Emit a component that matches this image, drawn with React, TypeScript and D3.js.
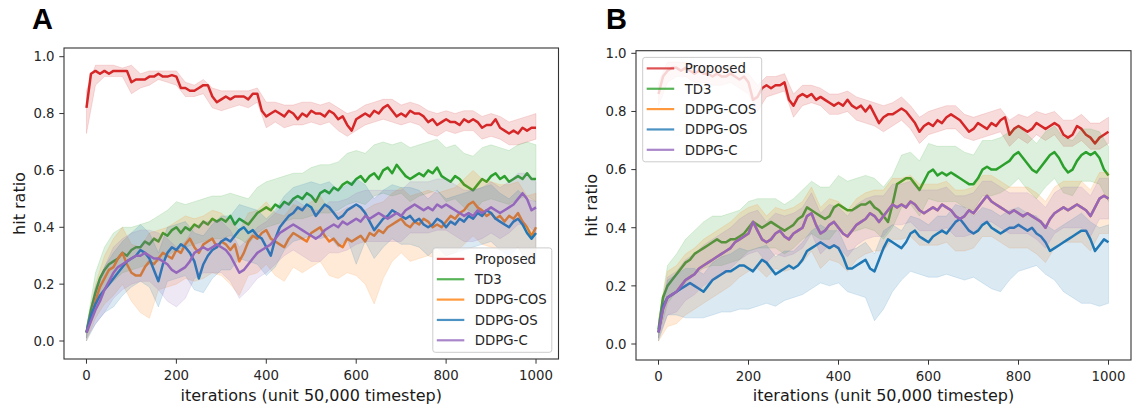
import React from 'react';
import * as d3 from 'd3';

// legend order == draw order
const methods = ['Proposed', 'TD3', 'DDPG-COS', 'DDPG-OS', 'DDPG-C'];
const colors = ['#d62728', '#2ca02c', '#ff7f0e', '#1f77b4', '#9467bd'];
const xTicks = [0, 200, 400, 600, 800, 1000];
const yTicks = [0, 0.2, 0.4, 0.6, 0.8, 1.0];
const MEAN_STEP = 10; // iterations between mean samples
const BAND_STEP = 20; // iterations between band samples

// ---------- panel A : mean curves (every 10 iterations) ----------
const propA = [
  0.82, 0.94, 0.95, 0.94, 0.95, 0.94, 0.95, 0.95, 0.95, 0.95,
  0.91, 0.92, 0.92, 0.92, 0.93, 0.93, 0.94, 0.93, 0.93, 0.935,
  0.93, 0.89, 0.89, 0.88, 0.88, 0.89, 0.90, 0.90, 0.86, 0.84,
  0.85, 0.86, 0.85, 0.86, 0.86, 0.86, 0.85, 0.87, 0.87, 0.81,
  0.79, 0.80, 0.81, 0.80, 0.79, 0.81, 0.80, 0.78, 0.80, 0.79,
  0.81, 0.80, 0.80, 0.79, 0.81, 0.80, 0.78, 0.79, 0.76, 0.74,
  0.78, 0.79, 0.80, 0.79, 0.81, 0.80, 0.82, 0.83, 0.81, 0.79,
  0.80, 0.79, 0.81, 0.80, 0.80, 0.79, 0.77, 0.78, 0.76, 0.77,
  0.78, 0.77, 0.77, 0.76, 0.78, 0.77, 0.78, 0.77, 0.75, 0.76,
  0.76, 0.78, 0.75, 0.74, 0.73, 0.74, 0.73, 0.75, 0.74, 0.75,
  0.75,
];
const td3A = [
  0.03, 0.11, 0.17, 0.22, 0.25, 0.27, 0.28, 0.29, 0.31, 0.30,
  0.32, 0.33, 0.33, 0.35, 0.34, 0.36, 0.35, 0.38, 0.37, 0.39,
  0.40, 0.38, 0.40, 0.39, 0.41, 0.40, 0.42, 0.41, 0.43, 0.42,
  0.43, 0.42, 0.44, 0.41, 0.43, 0.42, 0.41, 0.43, 0.45, 0.46,
  0.47, 0.46, 0.48, 0.47, 0.49, 0.48, 0.50, 0.51, 0.50, 0.52,
  0.51, 0.49, 0.52, 0.53, 0.52, 0.54, 0.53, 0.55, 0.56, 0.55,
  0.57, 0.58, 0.56, 0.58, 0.59, 0.57, 0.60, 0.61, 0.59, 0.62,
  0.60, 0.58, 0.57, 0.58, 0.59, 0.58, 0.60, 0.59, 0.61, 0.58,
  0.57, 0.56, 0.58, 0.57, 0.55, 0.54, 0.53, 0.55, 0.57, 0.56,
  0.58, 0.59, 0.57, 0.58, 0.56, 0.57, 0.58, 0.57, 0.59, 0.57,
  0.57,
];
const cosA = [
  0.03, 0.08, 0.14, 0.19, 0.22, 0.25, 0.26, 0.29, 0.31, 0.27,
  0.24, 0.23, 0.23, 0.26, 0.28, 0.27, 0.29, 0.31, 0.30, 0.29,
  0.32, 0.31, 0.34, 0.36, 0.33, 0.31, 0.34, 0.35, 0.36, 0.33,
  0.35, 0.34, 0.32, 0.34, 0.28, 0.31, 0.35, 0.37, 0.36, 0.38,
  0.39, 0.36, 0.35, 0.34, 0.33, 0.36, 0.38, 0.37, 0.36, 0.35,
  0.38, 0.39, 0.40, 0.37, 0.35, 0.36, 0.34, 0.33, 0.36, 0.35,
  0.36, 0.37, 0.35, 0.38, 0.37, 0.39, 0.38, 0.40, 0.41, 0.42,
  0.43, 0.41, 0.40, 0.42, 0.41, 0.43, 0.42, 0.40, 0.41, 0.40,
  0.42, 0.44, 0.43, 0.45, 0.46, 0.48, 0.49, 0.47, 0.46, 0.44,
  0.45, 0.43, 0.44, 0.42, 0.44, 0.43, 0.45, 0.42, 0.40, 0.37,
  0.40,
];
const osA = [
  0.03, 0.09, 0.13, 0.16, 0.18, 0.20, 0.22, 0.24, 0.26, 0.28,
  0.29, 0.30, 0.32, 0.31, 0.29, 0.25, 0.21, 0.27, 0.31, 0.33,
  0.32, 0.34, 0.33, 0.31, 0.28, 0.22, 0.27, 0.30, 0.32, 0.33,
  0.35, 0.36, 0.35, 0.37, 0.39, 0.40, 0.38, 0.39, 0.37, 0.36,
  0.33, 0.30, 0.36, 0.40, 0.42, 0.44, 0.45, 0.47, 0.46, 0.48,
  0.47, 0.44, 0.46, 0.48, 0.47, 0.45, 0.43, 0.44, 0.46, 0.47,
  0.48, 0.47, 0.45, 0.42, 0.39, 0.41, 0.43, 0.44, 0.46, 0.45,
  0.44, 0.43, 0.44, 0.42, 0.43, 0.41, 0.40, 0.41, 0.43, 0.42,
  0.40, 0.42, 0.41, 0.43, 0.42, 0.44, 0.43, 0.45, 0.44, 0.46,
  0.45, 0.43, 0.42, 0.41, 0.40, 0.42, 0.43, 0.41, 0.38, 0.36,
  0.38,
];
const cA = [
  0.03, 0.07, 0.11, 0.14, 0.18, 0.21, 0.24, 0.26, 0.27, 0.28,
  0.29, 0.30, 0.30, 0.31, 0.30, 0.29, 0.29, 0.28, 0.27, 0.25,
  0.24, 0.25, 0.26, 0.28, 0.31, 0.32, 0.33, 0.32, 0.33, 0.34,
  0.33, 0.32, 0.30, 0.27, 0.24, 0.25, 0.27, 0.29, 0.31, 0.32,
  0.33, 0.34, 0.36, 0.38, 0.39, 0.40, 0.41, 0.40, 0.39, 0.38,
  0.37, 0.36, 0.37, 0.39, 0.40, 0.41, 0.40, 0.42, 0.41, 0.42,
  0.43, 0.42, 0.44, 0.43, 0.44, 0.45, 0.44, 0.43, 0.44, 0.45,
  0.44, 0.46, 0.47, 0.48, 0.47, 0.46, 0.47, 0.46, 0.48, 0.47,
  0.48, 0.47, 0.46, 0.45, 0.44, 0.45, 0.44, 0.46, 0.45, 0.46,
  0.47, 0.46, 0.45, 0.46, 0.47, 0.48, 0.50, 0.52, 0.50, 0.46,
  0.47,
];

// ---------- panel A : spread bands (every 20 iterations) ----------
const propAHi = [
  0.88, 0.97, 0.97, 0.97, 0.96, 0.97, 0.94, 0.95, 0.95, 0.95,
  0.95, 0.91, 0.90, 0.92, 0.89, 0.88, 0.88, 0.88, 0.88, 0.89,
  0.84, 0.84, 0.83, 0.83, 0.84, 0.84, 0.83, 0.84, 0.82, 0.80,
  0.81, 0.83, 0.84, 0.85, 0.85, 0.83, 0.84, 0.83, 0.81, 0.80,
  0.81, 0.80, 0.81, 0.81, 0.79, 0.80, 0.79, 0.77, 0.78, 0.79,
  0.80,
];
const propALo = [
  0.73, 0.90, 0.93, 0.93, 0.93, 0.87, 0.89, 0.90, 0.92, 0.91,
  0.90, 0.86, 0.86, 0.87, 0.82, 0.81, 0.82, 0.83, 0.82, 0.84,
  0.75, 0.77, 0.75, 0.76, 0.76, 0.77, 0.76, 0.77, 0.74, 0.72,
  0.74, 0.76, 0.77, 0.78, 0.77, 0.76, 0.77, 0.76, 0.73, 0.72,
  0.74, 0.73, 0.74, 0.74, 0.71, 0.72, 0.71, 0.69, 0.69, 0.70,
  0.71,
];
const td3AHi = [
  0.05, 0.24, 0.33, 0.38, 0.40, 0.40, 0.41, 0.42, 0.44, 0.46,
  0.49, 0.48, 0.49, 0.50, 0.51, 0.51, 0.52, 0.51, 0.50, 0.54,
  0.56, 0.57, 0.58, 0.59, 0.59, 0.61, 0.62, 0.62, 0.63, 0.66,
  0.67, 0.66, 0.69, 0.70, 0.69, 0.70, 0.68, 0.69, 0.70, 0.71,
  0.68, 0.69, 0.66, 0.65, 0.68, 0.69, 0.68, 0.67, 0.69, 0.70,
  0.69,
];
const td3ALo = [
  0.01, 0.11, 0.18, 0.21, 0.24, 0.25, 0.26, 0.27, 0.28, 0.30,
  0.32, 0.33, 0.34, 0.35, 0.36, 0.36, 0.37, 0.36, 0.34, 0.38,
  0.40, 0.41, 0.42, 0.43, 0.43, 0.44, 0.45, 0.45, 0.46, 0.48,
  0.49, 0.48, 0.51, 0.52, 0.51, 0.52, 0.49, 0.51, 0.52, 0.53,
  0.49, 0.50, 0.47, 0.45, 0.49, 0.50, 0.49, 0.48, 0.50, 0.51,
  0.49,
];
const cosAHi = [
  0.05, 0.20, 0.30, 0.36, 0.40, 0.34, 0.33, 0.38, 0.39, 0.40,
  0.42, 0.44, 0.43, 0.44, 0.46, 0.45, 0.42, 0.39, 0.45, 0.46,
  0.49, 0.45, 0.44, 0.48, 0.47, 0.49, 0.51, 0.46, 0.45, 0.47,
  0.47, 0.46, 0.48, 0.49, 0.52, 0.54, 0.51, 0.52, 0.53, 0.52,
  0.53, 0.54, 0.57, 0.60, 0.57, 0.56, 0.55, 0.55, 0.56, 0.51,
  0.52,
];
const cosALo = [
  0.00, 0.08, 0.13, 0.16, 0.20, 0.14, 0.10, 0.08, 0.18, 0.19,
  0.20, 0.22, 0.21, 0.22, 0.24, 0.23, 0.20, 0.16, 0.23, 0.24,
  0.27, 0.23, 0.21, 0.26, 0.24, 0.26, 0.28, 0.23, 0.22, 0.24,
  0.23, 0.20, 0.13, 0.22, 0.28, 0.31, 0.28, 0.29, 0.30, 0.29,
  0.30, 0.31, 0.34, 0.37, 0.34, 0.33, 0.32, 0.32, 0.33, 0.28,
  0.28,
];
const osAHi = [
  0.05, 0.19, 0.26, 0.31, 0.35, 0.38, 0.41, 0.38, 0.31, 0.40,
  0.41, 0.42, 0.38, 0.37, 0.41, 0.44, 0.44, 0.48, 0.47, 0.46,
  0.43, 0.46, 0.51, 0.54, 0.55, 0.56, 0.55, 0.56, 0.53, 0.55,
  0.57, 0.55, 0.50, 0.53, 0.55, 0.54, 0.54, 0.53, 0.50, 0.53,
  0.50, 0.51, 0.52, 0.53, 0.54, 0.55, 0.52, 0.50, 0.53, 0.50,
  0.49,
];
const osALo = [
  0.00, 0.06, 0.10, 0.12, 0.16, 0.19, 0.21, 0.19, 0.12, 0.21,
  0.22, 0.23, 0.18, 0.17, 0.22, 0.25, 0.25, 0.29, 0.28, 0.27,
  0.23, 0.26, 0.32, 0.35, 0.36, 0.37, 0.36, 0.37, 0.33, 0.36,
  0.27, 0.35, 0.29, 0.33, 0.36, 0.34, 0.34, 0.33, 0.30, 0.33,
  0.30, 0.31, 0.32, 0.33, 0.34, 0.35, 0.32, 0.30, 0.33, 0.27,
  0.27,
];
const cAHi = [
  0.05, 0.17, 0.26, 0.33, 0.36, 0.38, 0.39, 0.39, 0.38, 0.36,
  0.33, 0.35, 0.40, 0.42, 0.42, 0.42, 0.39, 0.33, 0.36, 0.40,
  0.42, 0.45, 0.48, 0.50, 0.48, 0.46, 0.46, 0.49, 0.49, 0.50,
  0.52, 0.53, 0.53, 0.53, 0.53, 0.53, 0.56, 0.56, 0.56, 0.57,
  0.57, 0.55, 0.53, 0.53, 0.54, 0.56, 0.54, 0.56, 0.59, 0.59,
  0.56,
];
const cALo = [
  0.01, 0.06, 0.10, 0.15, 0.18, 0.20, 0.21, 0.21, 0.18, 0.14,
  0.12, 0.15, 0.22, 0.24, 0.24, 0.24, 0.21, 0.15, 0.18, 0.22,
  0.24, 0.27, 0.30, 0.32, 0.30, 0.28, 0.28, 0.31, 0.31, 0.32,
  0.34, 0.35, 0.35, 0.35, 0.35, 0.35, 0.38, 0.38, 0.38, 0.39,
  0.39, 0.37, 0.35, 0.35, 0.36, 0.38, 0.36, 0.38, 0.41, 0.41,
  0.38,
];

// ---------- panel B : mean curves ----------
const propB = [
  0.86, 0.92, 0.94, 0.95, 0.95, 0.94, 0.95, 0.94, 0.93, 0.94,
  0.93, 0.93, 0.92, 0.93, 0.92, 0.92, 0.93, 0.92, 0.91, 0.92,
  0.90, 0.84, 0.85, 0.88, 0.89, 0.88, 0.89, 0.89, 0.90, 0.84,
  0.82, 0.85, 0.86, 0.85, 0.86, 0.84, 0.85, 0.84, 0.83, 0.82,
  0.83, 0.82, 0.84, 0.82, 0.81, 0.82, 0.80, 0.82, 0.79, 0.76,
  0.78, 0.79, 0.79, 0.80, 0.81, 0.80, 0.78, 0.76, 0.73, 0.75,
  0.76, 0.75, 0.77, 0.76, 0.78, 0.79, 0.78, 0.77, 0.75, 0.73,
  0.74, 0.76, 0.75, 0.74, 0.76, 0.75, 0.77, 0.78, 0.72, 0.74,
  0.75, 0.74, 0.73, 0.74, 0.76, 0.75, 0.74, 0.75, 0.76, 0.75,
  0.72, 0.71, 0.72, 0.75, 0.74, 0.72, 0.71, 0.69, 0.71, 0.72,
  0.73,
];
const td3B = [
  0.05, 0.16, 0.20, 0.22, 0.24, 0.26, 0.28, 0.29, 0.31, 0.32,
  0.33, 0.34, 0.35, 0.36, 0.35, 0.35, 0.36, 0.36, 0.37, 0.38,
  0.40, 0.42, 0.41, 0.40, 0.41, 0.42, 0.41, 0.40, 0.39, 0.40,
  0.41, 0.43, 0.44, 0.47, 0.46, 0.45, 0.44, 0.43, 0.44, 0.47,
  0.48, 0.47, 0.46, 0.46, 0.47, 0.48, 0.48, 0.49, 0.47, 0.46,
  0.44, 0.42, 0.48, 0.55, 0.56, 0.57, 0.57, 0.55, 0.53, 0.56,
  0.59, 0.60, 0.58, 0.59, 0.58, 0.59, 0.58, 0.57, 0.56, 0.55,
  0.55, 0.57, 0.60, 0.61, 0.60, 0.60, 0.61, 0.62, 0.63, 0.65,
  0.66, 0.64, 0.62, 0.60, 0.59, 0.61, 0.63, 0.65, 0.66, 0.64,
  0.61, 0.59, 0.60, 0.63, 0.65, 0.66, 0.65, 0.66, 0.64, 0.60,
  0.58,
];
// DDPG-COS runs almost exactly under DDPG-C in panel B
const cosB = [
  0.04, 0.12, 0.16, 0.17, 0.18, 0.20, 0.22, 0.23, 0.24, 0.26,
  0.27, 0.28, 0.29, 0.30, 0.31, 0.32, 0.33, 0.35, 0.36, 0.37,
  0.38, 0.42, 0.39, 0.36, 0.35, 0.36, 0.38, 0.39, 0.37, 0.36,
  0.38, 0.39, 0.40, 0.44, 0.45, 0.41, 0.38, 0.39, 0.41, 0.42,
  0.40, 0.38, 0.37, 0.39, 0.41, 0.42, 0.43, 0.45, 0.44, 0.42,
  0.44, 0.46, 0.48, 0.47, 0.48, 0.47, 0.49, 0.48, 0.46, 0.45,
  0.46, 0.47, 0.46, 0.48, 0.47, 0.46, 0.44, 0.43, 0.44, 0.46,
  0.45, 0.47, 0.49, 0.51, 0.49, 0.48, 0.47, 0.46, 0.45, 0.46,
  0.45, 0.44, 0.45, 0.44, 0.43, 0.42, 0.40, 0.43, 0.45, 0.46,
  0.47, 0.46, 0.47, 0.48, 0.47, 0.46, 0.44, 0.47, 0.50, 0.51,
  0.50,
];
const osB = [
  0.04, 0.13, 0.16, 0.17, 0.18, 0.19, 0.20, 0.21, 0.20, 0.19,
  0.18, 0.20, 0.22, 0.23, 0.24, 0.25, 0.25, 0.26, 0.27, 0.27,
  0.26, 0.25, 0.27, 0.29, 0.28, 0.26, 0.24, 0.25, 0.26, 0.27,
  0.26, 0.27, 0.29, 0.32, 0.33, 0.34, 0.35, 0.34, 0.33, 0.34,
  0.33, 0.30, 0.26, 0.26, 0.27, 0.28, 0.29, 0.26, 0.25, 0.29,
  0.33, 0.36, 0.35, 0.34, 0.33, 0.35, 0.38, 0.39, 0.37, 0.36,
  0.35, 0.37, 0.38, 0.39, 0.38, 0.40, 0.42, 0.43, 0.41, 0.39,
  0.38, 0.39, 0.41, 0.42, 0.40, 0.39, 0.38, 0.39, 0.40, 0.40,
  0.41, 0.40, 0.39, 0.40, 0.38, 0.37, 0.35, 0.32, 0.33, 0.34,
  0.35, 0.36, 0.37, 0.38, 0.39, 0.39, 0.36, 0.32, 0.34, 0.36,
  0.35,
];
const cB = [
  0.04, 0.12, 0.16, 0.17, 0.18, 0.20, 0.22, 0.23, 0.24, 0.26,
  0.27, 0.28, 0.29, 0.30, 0.31, 0.32, 0.33, 0.35, 0.36, 0.37,
  0.38, 0.42, 0.39, 0.36, 0.35, 0.36, 0.38, 0.39, 0.37, 0.36,
  0.38, 0.39, 0.40, 0.44, 0.45, 0.41, 0.38, 0.39, 0.41, 0.42,
  0.40, 0.38, 0.37, 0.39, 0.41, 0.42, 0.43, 0.45, 0.44, 0.42,
  0.44, 0.46, 0.48, 0.47, 0.48, 0.47, 0.49, 0.48, 0.46, 0.45,
  0.46, 0.47, 0.46, 0.48, 0.47, 0.46, 0.44, 0.43, 0.44, 0.46,
  0.45, 0.47, 0.49, 0.51, 0.49, 0.48, 0.47, 0.46, 0.45, 0.46,
  0.45, 0.44, 0.45, 0.44, 0.43, 0.42, 0.40, 0.43, 0.45, 0.46,
  0.47, 0.46, 0.47, 0.48, 0.47, 0.46, 0.44, 0.47, 0.50, 0.51,
  0.50,
];

// ---------- panel B : spread bands ----------
const propBHi = [
  0.90, 0.97, 0.97, 0.97, 0.96, 0.96, 0.95, 0.95, 0.96, 0.94,
  0.93, 0.89, 0.92, 0.92, 0.93, 0.86, 0.89, 0.89, 0.88, 0.86,
  0.86, 0.87, 0.85, 0.84, 0.83, 0.82, 0.83, 0.85, 0.82, 0.78,
  0.80, 0.81, 0.82, 0.82, 0.79, 0.78, 0.79, 0.80, 0.81, 0.77,
  0.79, 0.78, 0.80, 0.79, 0.80, 0.77, 0.77, 0.79, 0.76, 0.76,
  0.78,
];
const propBLo = [
  0.82, 0.90, 0.92, 0.92, 0.90, 0.90, 0.89, 0.89, 0.90, 0.88,
  0.86, 0.80, 0.85, 0.86, 0.87, 0.78, 0.82, 0.83, 0.82, 0.79,
  0.79, 0.80, 0.77, 0.76, 0.75, 0.73, 0.75, 0.77, 0.74, 0.69,
  0.72, 0.73, 0.74, 0.74, 0.71, 0.70, 0.71, 0.72, 0.73, 0.68,
  0.71, 0.69, 0.72, 0.70, 0.72, 0.68, 0.68, 0.70, 0.67, 0.67,
  0.69,
];
const td3BHi = [
  0.08, 0.27, 0.31, 0.36, 0.39, 0.42, 0.44, 0.44, 0.45, 0.46,
  0.49, 0.50, 0.50, 0.50, 0.48, 0.50, 0.53, 0.56, 0.54, 0.54,
  0.58, 0.56, 0.57, 0.58, 0.57, 0.54, 0.58, 0.65, 0.66, 0.63,
  0.69, 0.68, 0.68, 0.68, 0.66, 0.65, 0.70, 0.70, 0.71, 0.73,
  0.75, 0.72, 0.69, 0.73, 0.75, 0.71, 0.70, 0.74, 0.74, 0.73,
  0.68,
];
const td3BLo = [
  0.02, 0.14, 0.18, 0.21, 0.24, 0.26, 0.27, 0.27, 0.28, 0.29,
  0.32, 0.33, 0.33, 0.33, 0.31, 0.33, 0.36, 0.38, 0.36, 0.36,
  0.40, 0.38, 0.39, 0.40, 0.39, 0.36, 0.40, 0.47, 0.48, 0.44,
  0.50, 0.49, 0.49, 0.49, 0.47, 0.46, 0.51, 0.51, 0.52, 0.54,
  0.57, 0.53, 0.50, 0.54, 0.57, 0.52, 0.51, 0.56, 0.56, 0.55,
  0.49,
];
const cosBHi = [
  0.08, 0.25, 0.27, 0.31, 0.33, 0.36, 0.38, 0.40, 0.42, 0.45,
  0.47, 0.48, 0.44, 0.47, 0.46, 0.47, 0.49, 0.54, 0.47, 0.50,
  0.49, 0.46, 0.50, 0.52, 0.53, 0.53, 0.57, 0.57, 0.58, 0.55,
  0.55, 0.55, 0.56, 0.53, 0.53, 0.54, 0.58, 0.58, 0.56, 0.54,
  0.54, 0.54, 0.52, 0.49, 0.54, 0.56, 0.56, 0.56, 0.53, 0.59,
  0.59,
];
const cosBLo = [
  0.01, 0.06, 0.07, 0.10, 0.12, 0.14, 0.16, 0.18, 0.20, 0.23,
  0.25, 0.26, 0.23, 0.26, 0.25, 0.26, 0.28, 0.32, 0.26, 0.29,
  0.28, 0.25, 0.29, 0.31, 0.32, 0.32, 0.36, 0.36, 0.37, 0.34,
  0.34, 0.34, 0.35, 0.32, 0.32, 0.33, 0.37, 0.37, 0.35, 0.33,
  0.33, 0.33, 0.31, 0.28, 0.33, 0.35, 0.35, 0.35, 0.32, 0.38,
  0.38,
];
const osBHi = [
  0.06, 0.22, 0.24, 0.26, 0.26, 0.24, 0.28, 0.30, 0.31, 0.33,
  0.32, 0.33, 0.34, 0.30, 0.32, 0.32, 0.35, 0.39, 0.41, 0.39,
  0.39, 0.32, 0.33, 0.35, 0.31, 0.39, 0.41, 0.39, 0.44, 0.43,
  0.41, 0.44, 0.44, 0.48, 0.47, 0.44, 0.47, 0.46, 0.44, 0.46,
  0.47, 0.45, 0.44, 0.41, 0.39, 0.41, 0.43, 0.45, 0.42, 0.40,
  0.41,
];
const osBLo = [
  0.01, 0.10, 0.10, 0.09, 0.09, 0.09, 0.10, 0.11, 0.11, 0.12,
  0.12, 0.13, 0.14, 0.13, 0.15, 0.16, 0.17, 0.19, 0.21, 0.20,
  0.21, 0.18, 0.17, 0.16, 0.08, 0.12, 0.18, 0.22, 0.25, 0.24,
  0.23, 0.23, 0.24, 0.23, 0.22, 0.23, 0.21, 0.19, 0.18, 0.22,
  0.25, 0.26, 0.27, 0.24, 0.22, 0.18, 0.16, 0.14, 0.14, 0.13,
  0.14,
];
const cBHi = [
  0.07, 0.23, 0.25, 0.29, 0.31, 0.34, 0.36, 0.38, 0.40, 0.43,
  0.45, 0.46, 0.42, 0.45, 0.44, 0.45, 0.47, 0.52, 0.45, 0.48,
  0.47, 0.44, 0.48, 0.50, 0.51, 0.51, 0.55, 0.55, 0.56, 0.53,
  0.53, 0.53, 0.54, 0.51, 0.51, 0.52, 0.56, 0.56, 0.54, 0.52,
  0.52, 0.52, 0.50, 0.47, 0.52, 0.54, 0.54, 0.54, 0.51, 0.57,
  0.57,
];
const cBLo = [
  0.02, 0.10, 0.11, 0.15, 0.17, 0.20, 0.22, 0.24, 0.26, 0.29,
  0.31, 0.32, 0.28, 0.31, 0.30, 0.31, 0.33, 0.38, 0.31, 0.34,
  0.33, 0.30, 0.34, 0.36, 0.37, 0.37, 0.41, 0.41, 0.42, 0.39,
  0.39, 0.39, 0.40, 0.37, 0.37, 0.38, 0.42, 0.42, 0.40, 0.38,
  0.38, 0.38, 0.36, 0.33, 0.38, 0.40, 0.40, 0.40, 0.37, 0.43,
  0.43,
];

const FONT = '"DejaVu Sans", sans-serif';
const TICK_FS = 13.3;

type Box = { left: number; right: number; top: number; bottom: number };

function Panel({ id, tag, tagX, box, yDomain, ylabelX, means, los, his, legendPos }: {
  id: string; tag: string; tagX: number; box: Box; yDomain: [number, number]; ylabelX: number;
  means: number[][]; los: number[][]; his: number[][]; legendPos: 'lower right' | 'upper left';
}) {
  const x = d3.scaleLinear().domain([-50, 1050]).range([box.left, box.right]);
  const y = d3.scaleLinear().domain(yDomain).range([box.bottom, box.top]);

  const line = d3.line<number>()
    .x((_, i) => x(i * MEAN_STEP))
    .y(d => y(d));

  const band = (lo: number[], hi: number[]) =>
    d3.area<number>()
      .x((_, i) => x(i * BAND_STEP))
      .y0(d => y(d))
      .y1((_, i) => y(hi[i]))(lo) || '';

  // legend geometry (matplotlib-ish)
  const lw = 119, lh = 104.4, pad = 6.7;
  const lx = legendPos === 'lower right' ? box.right - pad - lw : box.left + pad;
  const ly = legendPos === 'lower right' ? box.bottom - pad - lh : box.top + pad;

  const cx = (box.left + box.right) / 2;
  const cy = (box.top + box.bottom) / 2;

  return (
    <g>
      <defs>
        <clipPath id={`clip-${id}`}>
          <rect x={box.left} y={box.top} width={box.right - box.left} height={box.bottom - box.top} />
        </clipPath>
      </defs>

      <text x={tagX} y={29} fontFamily='"Liberation Sans", Arial, sans-serif' fontWeight="bold" fontSize={29}>{tag}</text>

      <g clipPath={`url(#clip-${id})`}>
        {methods.map((m, k) => (
          <g key={m}>
            <path d={band(los[k], his[k])} fill={colors[k]} fillOpacity={0.16}
              stroke={colors[k]} strokeOpacity={0.18} strokeWidth={0.8} />
            <path d={line(means[k]) || ''} fill="none" stroke={colors[k]} strokeWidth={2.5}
              strokeLinejoin="round" />
          </g>
        ))}
      </g>

      {/* frame */}
      <rect x={box.left} y={box.top} width={box.right - box.left} height={box.bottom - box.top}
        fill="none" stroke="#333" strokeWidth={1.1} />

      {/* x ticks */}
      {xTicks.map(t => (
        <g key={`x${t}`}>
          <line x1={x(t)} x2={x(t)} y1={box.bottom} y2={box.bottom + 4.7} stroke="#333" strokeWidth={1} />
          <text x={x(t)} y={box.bottom + 20.5} textAnchor="middle" fontFamily={FONT} fontSize={TICK_FS} fill="#262626">{t}</text>
        </g>
      ))}
      {/* y ticks */}
      {yTicks.map(t => (
        <g key={`y${t}`}>
          <line x1={box.left - 4.7} x2={box.left} y1={y(t)} y2={y(t)} stroke="#333" strokeWidth={1} />
          <text x={box.left - 9.4} y={y(t)} dy="0.36em" textAnchor="end" fontFamily={FONT} fontSize={TICK_FS} fill="#262626">{t.toFixed(1)}</text>
        </g>
      ))}

      <text x={cx} y={400.5} textAnchor="middle" fontFamily={FONT} fontSize={16} fill="#1a1a1a">
        iterations (unit 50,000 timestep)
      </text>
      <text transform={`translate(${ylabelX},${cy}) rotate(-90)`} textAnchor="middle" fontFamily={FONT} fontSize={16} fill="#1a1a1a">
        hit ratio
      </text>

      {/* legend */}
      <g>
        <rect x={lx} y={ly} width={lw} height={lh} rx={2.5} fill="#fff" fillOpacity={0.8} stroke="#cccccc" strokeWidth={1} />
        {methods.map((m, k) => {
          const ry = ly + 11 + k * 20.35;
          return (
            <g key={`lg${m}`}>
              <line x1={lx + 4} x2={lx + 31.5} y1={ry} y2={ry} stroke={colors[k]} strokeWidth={2.2} strokeOpacity={0.8} />
              <text x={lx + 42} y={ry} dy="0.36em" fontFamily={FONT} fontSize={TICK_FS} fill="#262626">{m}</text>
            </g>
          );
        })}
      </g>
    </g>
  );
}

export default function App() {
  return (
    <svg width={1136} height={409} style={{ position: 'absolute', left: 0, top: 0, background: '#fff' }}>
      <rect width={1136} height={409} fill="#fff" />
      <Panel
        id="a" tag="A" tagX={32}
        box={{ left: 64, right: 558.5, top: 48, bottom: 359 }}
        yDomain={[-0.0633, 1.0306]}
        ylabelX={25}
        means={[propA, td3A, cosA, osA, cA]}
        los={[propALo, td3ALo, cosALo, osALo, cALo]}
        his={[propAHi, td3AHi, cosAHi, osAHi, cAHi]}
        legendPos="lower right"
      />
      <Panel
        id="b" tag="B" tagX={606}
        box={{ left: 636, right: 1131, top: 50.7, bottom: 360 }}
        yDomain={[-0.055, 1.009]}
        ylabelX={597}
        means={[propB, td3B, cosB, osB, cB]}
        los={[propBLo, td3BLo, cosBLo, osBLo, cBLo]}
        his={[propBHi, td3BHi, cosBHi, osBHi, cBHi]}
        legendPos="upper left"
      />
    </svg>
  );
}
